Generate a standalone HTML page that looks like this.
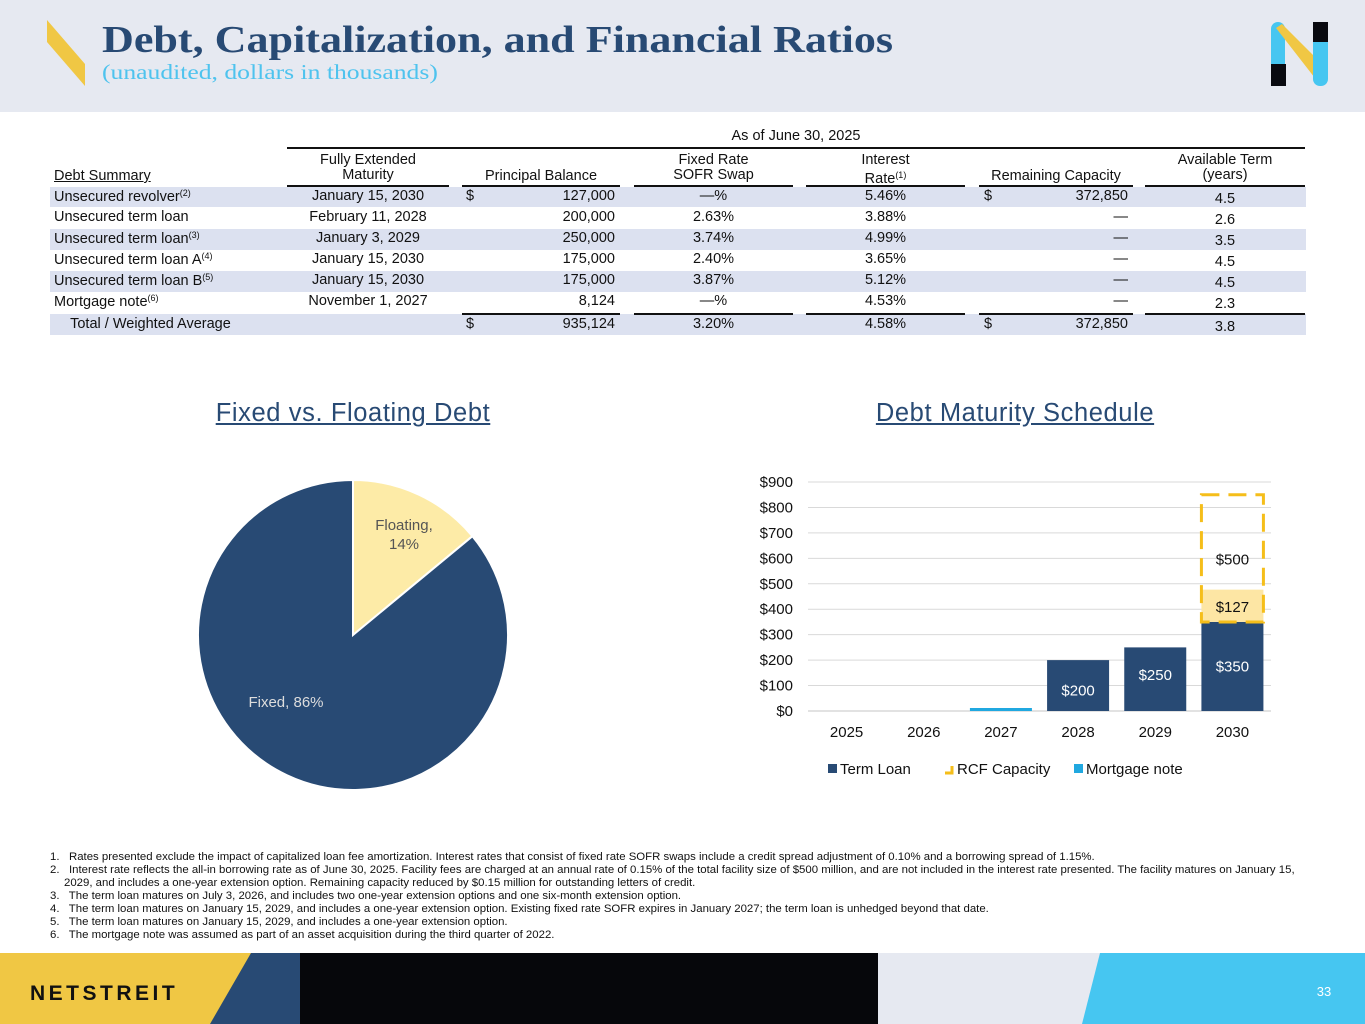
<!DOCTYPE html>
<html><head><meta charset="utf-8">
<style>
*{margin:0;padding:0;box-sizing:border-box}
body{width:1365px;height:1024px;position:relative;background:#fff;font-family:"Liberation Sans",sans-serif;overflow:hidden}
.a{position:absolute;white-space:nowrap}
.t{font-family:"Liberation Sans Narrow","Liberation Sans",sans-serif;font-size:14.5px;color:#111}
.c{text-align:center}
.r{text-align:right}
.sh{position:absolute;left:50px;width:1256px;background:#dce1f0}
sup{font-size:9px;vertical-align:5px}
.hl{position:absolute;height:2px;background:#111}
.fn{font-size:11.4px;color:#111;line-height:13px}
</style></head><body>
<div class="a" style="left:0;top:0;width:1365px;height:112px;background:#e6e9f1"></div>
<svg class="a" style="top:18px;left:45px" width="42" height="70"><polygon points="2,2 40,46 40,68 2,24" fill="#f0c744"/></svg>
<div class="a" style="left:102px;top:18px;font-family:'Liberation Serif',serif;font-weight:bold;font-size:38px;color:#284a74;transform:scaleX(1.16);transform-origin:left top">Debt, Capitalization, and Financial Ratios</div>
<div class="a" style="left:102px;top:60px;font-family:'Liberation Serif',serif;font-size:21px;color:#4ec3ee;transform:scaleX(1.22);transform-origin:left top">(unaudited, dollars in thousands)</div>
<svg class="a" style="left:1268px;top:20px" width="64" height="68">
<rect x="3" y="2" width="14" height="64" rx="7" fill="#46c6f1"/><polygon points="8,8 50,62 50,40 14,4" fill="#f0c744"/><rect x="45" y="4" width="15" height="62" rx="7" fill="#46c6f1"/><rect x="45" y="2" width="15" height="20" fill="#090a10"/><rect x="3" y="44" width="15" height="22" fill="#090a10"/></svg>

<!-- table -->
<div>
<div class="a t c" style="left:287px;width:1018px;top:128px">As of June 30, 2025</div>
<div class="hl" style="left:287px;width:1018px;top:147px"></div>
<div class="a t" style="left:54px;top:168px;text-decoration:underline">Debt Summary</div>
<div class="a t c" style="left:287px;width:162px;top:153px;line-height:15px">Fully Extended<br>Maturity</div>
<div class="a t c" style="left:462px;width:158px;top:168px">Principal Balance</div>
<div class="a t c" style="left:634px;width:159px;top:153px;line-height:15px">Fixed Rate<br>SOFR Swap</div>
<div class="a t c" style="left:806px;width:159px;top:153px;line-height:15px">Interest<br>Rate<sup>(1)</sup></div>
<div class="a t c" style="left:979px;width:154px;top:168px">Remaining Capacity</div>
<div class="a t c" style="left:1145px;width:160px;top:153px;line-height:15px">Available Term<br>(years)</div>
<div class="sh" style="top:187px;height:20px"></div>
<div class="sh" style="top:229px;height:21px"></div>
<div class="sh" style="top:271px;height:21px"></div>
<div class="sh" style="top:314px;height:21px"></div>
<div class="hl" style="left:287px;width:162px;top:185px"></div>
<div class="hl" style="left:462px;width:158px;top:185px"></div>
<div class="hl" style="left:634px;width:159px;top:185px"></div>
<div class="hl" style="left:806px;width:159px;top:185px"></div>
<div class="hl" style="left:979px;width:154px;top:185px"></div>
<div class="hl" style="left:1145px;width:160px;top:185px"></div>
<div class="hl" style="left:462px;width:158px;top:313px"></div>
<div class="hl" style="left:634px;width:159px;top:313px"></div>
<div class="hl" style="left:806px;width:159px;top:313px"></div>
<div class="hl" style="left:979px;width:154px;top:313px"></div>
<div class="hl" style="left:1145px;width:160px;top:313px"></div>
<div id="rows"></div>
</div>

<!-- pie -->
<div class="a c" style="left:150px;width:406px;top:399px;font-size:25.5px;color:#284a74;text-decoration:underline;letter-spacing:0.6px">Fixed vs. Floating Debt</div>
<svg class="a" id="pie" style="left:0;top:0" width="700" height="850"></svg>

<!-- bar chart -->
<div class="a c" style="left:810px;width:410px;top:399px;font-size:25.5px;color:#284a74;text-decoration:underline;letter-spacing:0.6px">Debt Maturity Schedule</div>
<svg class="a" id="bar" style="left:0;top:0" width="1365" height="850"></svg>

<div class="a fn" style="left:50px;top:851px;width:1250px;white-space:normal">
<div style="padding-left:14px;text-indent:-14px">1.&nbsp;&nbsp; Rates presented exclude the impact of capitalized loan fee amortization. Interest rates that consist of fixed rate SOFR swaps include a credit spread adjustment of 0.10% and a borrowing spread of 1.15%.</div>
<div style="padding-left:14px;text-indent:-14px">2.&nbsp;&nbsp; Interest rate reflects the all-in borrowing rate as of June 30, 2025. Facility fees are charged at an annual rate of 0.15% of the total facility size of $500 million, and are not included in the interest rate presented. The facility matures on January 15, 2029, and includes a one-year extension option. Remaining capacity reduced by $0.15 million for outstanding letters of credit.</div>
<div style="padding-left:14px;text-indent:-14px">3.&nbsp;&nbsp; The term loan matures on July 3, 2026, and includes two one-year extension options and one six-month extension option.</div>
<div style="padding-left:14px;text-indent:-14px">4.&nbsp;&nbsp; The term loan matures on January 15, 2029, and includes a one-year extension option. Existing fixed rate SOFR expires in January 2027; the term loan is unhedged beyond that date.</div>
<div style="padding-left:14px;text-indent:-14px">5.&nbsp;&nbsp; The term loan matures on January 15, 2029, and includes a one-year extension option.</div>
<div style="padding-left:14px;text-indent:-14px">6.&nbsp;&nbsp; The mortgage note was assumed as part of an asset acquisition during the third quarter of 2022.</div>
</div>

<svg class="a" style="left:0;top:953px" width="1365" height="71">
<rect x="0" y="0" width="1365" height="71" fill="#06070b"/>
<rect x="878" y="0" width="487" height="71" fill="#e6e9f1"/>
<polygon points="1100,0 1365,0 1365,71 1082,71" fill="#46c6f1"/>
<polygon points="0,0 300,0 300,71 0,71" fill="#284a74"/>
<polygon points="0,0 251,0 210,71 0,71" fill="#f0c744"/>
<text x="30" y="47" font-family="Liberation Sans, sans-serif" font-size="21" font-weight="bold" letter-spacing="3.5" fill="#111">NETSTREIT</text>
<text x="1324" y="43" text-anchor="middle" font-family="Liberation Sans, sans-serif" font-size="13" fill="#fff">33</text>
</svg>

<script>
// table data
const rowLabels=["Unsecured revolver<sup>(2)</sup>","Unsecured term loan","Unsecured term loan<sup>(3)</sup>","Unsecured term loan A<sup>(4)</sup>","Unsecured term loan B<sup>(5)</sup>","Mortgage note<sup>(6)</sup>","&nbsp;&nbsp;&nbsp;&nbsp;Total / Weighted Average"];
const maturities=["January 15, 2030","February 11, 2028","January 3, 2029","January 15, 2030","January 15, 2030","November 1, 2027",""];
const principal=["127,000","200,000","250,000","175,000","175,000","8,124","935,124"];
const fixedRate=["—%","2.63%","3.74%","2.40%","3.87%","—%","3.20%"];
const interest=["5.46%","3.88%","4.99%","3.65%","5.12%","4.53%","4.58%"];
const remaining=["372,850","—","—","—","—","—","372,850"];
const term=["4.5","2.6","3.5","4.5","4.5","2.3","3.8"];
const rowsEl=document.getElementById('rows');
const rowTops=[188,209,230,251,272,293,316];
rowLabels.forEach((l,i)=>{
  const y=rowTops[i];
  const dollar=(i===0||i===6);
  let h='';
  h+=`<div class="a t" style="left:54px;top:${y}px">${l}</div>`;
  h+=`<div class="a t c" style="left:287px;width:162px;top:${y}px">${maturities[i]}</div>`;
  if(dollar)h+=`<div class="a t" style="left:466px;top:${y}px">$</div>`;
  h+=`<div class="a t r" style="left:462px;width:153px;top:${y}px">${principal[i]}</div>`;
  h+=`<div class="a t c" style="left:634px;width:159px;top:${y}px">${fixedRate[i]}</div>`;
  h+=`<div class="a t c" style="left:806px;width:159px;top:${y}px">${interest[i]}</div>`;
  if(dollar)h+=`<div class="a t" style="left:984px;top:${y}px">$</div>`;
  h+=`<div class="a t r" style="left:979px;width:149px;top:${y}px">${remaining[i]}</div>`;
  h+=`<div class="a t c" style="left:1145px;width:160px;top:${y+3}px">${term[i]}</div>`;
  const d=document.createElement('div');
  
  
  d.innerHTML=h;rowsEl.appendChild(d);
});

// pie data
const pieLabels=["Floating","Fixed"];
const pieValues=[14,86];
const pieColors=["#fdeba7","#284a74"];
const NS='http://www.w3.org/2000/svg';
const pie=document.getElementById('pie');
const cx=353,cy=635,R=155;
let ang=-Math.PI/2;const tot=pieValues.reduce((a,b)=>a+b,0);
pieValues.forEach((v,i)=>{
  const a2=ang+v/tot*2*Math.PI;
  const x1=cx+R*Math.cos(ang),y1=cy+R*Math.sin(ang),x2=cx+R*Math.cos(a2),y2=cy+R*Math.sin(a2);
  const p=document.createElementNS(NS,'path');
  p.setAttribute('d',`M${cx},${cy}L${x1},${y1}A${R},${R} 0 ${a2-ang>Math.PI?1:0} 1 ${x2},${y2}Z`);
  p.setAttribute('fill',pieColors[i]);p.setAttribute('stroke','#fff');p.setAttribute('stroke-width','2');
  
  
  pie.appendChild(p);ang=a2;
});
function txt(svg,x,y,s,opt){const t=document.createElementNS(NS,'text');t.setAttribute('x',x);t.setAttribute('y',y);t.setAttribute('font-family','Liberation Sans, sans-serif');for(const k in opt)t.setAttribute(k,opt[k]);t.textContent=s;svg.appendChild(t);return t;}
let t1=txt(pie,404,530,pieLabels[0]+",",{'font-size':15,'text-anchor':'middle',fill:'#555'});


let t1b=txt(pie,404,549,pieValues[0]+"%",{'font-size':15,'text-anchor':'middle',fill:'#555'});


let t2=txt(pie,286,707,pieLabels[1]+", "+pieValues[1]+"%",{'font-size':15,'text-anchor':'middle',fill:'#ddd'});



// bar chart data
const years=["2025","2026","2027","2028","2029","2030"];
const termLoan=[0,0,0,200,250,350];
const rcfDrawn=[0,0,0,0,0,127];
const rcfCapacity=[0,0,0,0,0,500];
const mortgage=[0,0,8.124,0,0,0];
const yTicks=[0,100,200,300,400,500,600,700,800,900];
const bar=document.getElementById('bar');
const X0=808,X1=1271,Y0=711,Y9=482,YMAX=900;
const band=(X1-X0)/years.length;
const xc=i=>X0+band*(i+0.5);
const yv=v=>Y0-(v/YMAX)*(Y0-Y9);
const bw=62;
yTicks.forEach(v=>{
  const l=document.createElementNS(NS,'line');
  l.setAttribute('x1',X0);l.setAttribute('x2',X1);l.setAttribute('y1',yv(v));l.setAttribute('y2',yv(v));
  l.setAttribute('stroke','#d9d9d9');l.setAttribute('stroke-width',v===0?1.5:1);
  
  
  bar.appendChild(l);
  const t=txt(bar,793,yv(v)+5,'$'+v,{'font-size':15,'text-anchor':'end',fill:'#111'});
  
  
});
years.forEach((y,i)=>{
  const t=txt(bar,xc(i),737,y,{'font-size':15,'text-anchor':'middle',fill:'#111'});
  
  
  if(termLoan[i]>0){
    const r=document.createElementNS(NS,'rect');
    r.setAttribute('x',xc(i)-bw/2);r.setAttribute('width',bw);r.setAttribute('y',yv(termLoan[i]));r.setAttribute('height',Y0-yv(termLoan[i]));r.setAttribute('fill','#284a74');
    
    
    bar.appendChild(r);
    const l=txt(bar,xc(i),yv(termLoan[i])+(termLoan[i]>300?Math.min(50,(Y0-yv(termLoan[i]))/2+5):(Y0-yv(termLoan[i]))/2+5+(termLoan[i]>=250?-4:5)),'$'+termLoan[i],{'font-size':15,'text-anchor':'middle',fill:'#fff'});
    
    
  }
  if(mortgage[i]>0){
    const r=document.createElementNS(NS,'rect');
    const h=Math.max(3,Y0-yv(mortgage[i]));
    r.setAttribute('x',xc(i)-bw/2);r.setAttribute('width',bw);r.setAttribute('y',Y0-h);r.setAttribute('height',h);r.setAttribute('fill','#20a8e0');
    
    
    bar.appendChild(r);
  }
  if(rcfDrawn[i]>0){
    const base=termLoan[i];
    const r=document.createElementNS(NS,'rect');
    r.setAttribute('x',xc(i)-bw/2);r.setAttribute('width',bw);r.setAttribute('y',yv(base+rcfDrawn[i]));r.setAttribute('height',yv(base)-yv(base+rcfDrawn[i]));r.setAttribute('fill','#fde6a4');
    
    
    bar.appendChild(r);
    const l=txt(bar,xc(i),(yv(base)+yv(base+rcfDrawn[i]))/2+6,'$'+rcfDrawn[i],{'font-size':15,'text-anchor':'middle',fill:'#111'});
    
    
  }
  if(rcfCapacity[i]>0){
    const base=termLoan[i];
    const r=document.createElementNS(NS,'rect');
    r.setAttribute('x',xc(i)-bw/2);r.setAttribute('width',bw);r.setAttribute('y',yv(base+rcfCapacity[i]));r.setAttribute('height',yv(base)-yv(base+rcfCapacity[i]));
    r.setAttribute('fill','none');r.setAttribute('stroke','#f5be1a');r.setAttribute('stroke-width','3');r.setAttribute('stroke-dasharray','18,9');
    
    
    bar.appendChild(r);
    const l=txt(bar,xc(i),yv(base+rcfCapacity[i]*0.5)+6,'$'+rcfCapacity[i],{'font-size':15,'text-anchor':'middle',fill:'#111'});
    
    
  }
});
// legend
const lg=[["Term Loan","#284a74",828],["RCF Capacity","#f5be1a",945],["Mortgage note","#20a8e0",1074]];
lg.forEach(([n,c,x],k)=>{
  const g=document.createElementNS(NS,'g');
  
  
  if(k===1){const p=document.createElementNS(NS,'path');p.setAttribute('d',`M${x},${773}h7v-7`);p.setAttribute('stroke',c);p.setAttribute('stroke-width','3');p.setAttribute('fill','none');g.appendChild(p);}
  else{const r=document.createElementNS(NS,'rect');r.setAttribute('x',x);r.setAttribute('y',764);r.setAttribute('width',9);r.setAttribute('height',9);r.setAttribute('fill',c);g.appendChild(r);}
  bar.appendChild(g);
  txt(g,x+12,774,n,{'font-size':15,fill:'#111'});
});
</script>
</body></html>
